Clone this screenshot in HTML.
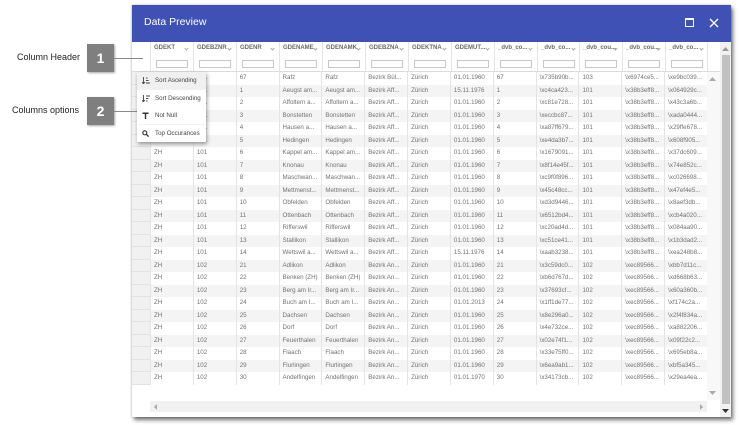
<!DOCTYPE html>
<html><head><meta charset="utf-8">
<style>
*{margin:0;padding:0;box-sizing:border-box}
html,body{width:740px;height:425px;background:#fff;overflow:hidden;font-family:"Liberation Sans",Arial,sans-serif;position:relative}
.abs{position:absolute}
.lbl{position:absolute;font-size:9px;color:#222;white-space:nowrap}
.box{position:absolute;width:27px;height:28px;background:#7f7f7f;color:#fff;font-weight:bold;font-size:14px;text-align:center;line-height:28px;box-shadow:1px 1px 2px rgba(0,0,0,.35)}
.ln{position:absolute;height:1px;background:#8a8a8a}
#dlg{position:absolute;left:132px;top:5px;width:599px;height:412px;background:#fff;box-shadow:2px 3px 4px rgba(0,0,0,.55),0 0 2px rgba(0,0,0,.25)}
#title{position:absolute;left:132px;top:5px;width:599px;height:37px;background:#3f51b5}
#title span{position:absolute;left:12px;top:11px;font-size:10.5px;color:#fff}
.hdr{position:absolute;top:42px;height:30px;border-left:1px solid #e4e4e4;border-bottom:1px solid #dcdcdc;background:#fff}
.hdr .n{position:absolute;left:3px;top:3px;font-size:6px;font-weight:bold;color:#6a6a6a;white-space:nowrap}
.hdr .ch{position:absolute;left:34px;top:5px;width:3px;height:3px;border-right:1px solid #aaa;border-bottom:1px solid #aaa;transform:rotate(45deg)}
.hdr .in{position:absolute;left:5px;top:18px;width:32px;height:8px;border:1px solid #c8c8c8;background:#fff}
#rows{position:absolute;left:132px;top:72px;width:575px}
.r{display:flex;height:12.5px;width:575px}
.r:nth-child(even){background:#f4f4f4}
.r div{flex:0 0 42.846px;width:42.846px;border-left:1px solid #e4e4e4;padding-left:3px;font-size:6.2px;color:#727272;line-height:12.5px;white-space:nowrap;overflow:hidden}
.r div.h{flex:0 0 18px;width:18px;background:#f1f1f1;border-left:none;border-bottom:1px solid #e2e2e2;padding:0}
#menu{position:absolute;left:137px;top:72px;width:69px;height:70px;background:#f3f3f3;box-shadow:1px 2px 4px rgba(0,0,0,.4)}
.mi{position:absolute;left:0;width:69px;height:17px;background:#fff;font-size:6.2px;color:#444;line-height:17px;padding-left:18px;white-space:nowrap}
.mi svg{position:absolute;left:5px;top:5px}
</style></head><body>

<div class="lbl" style="left:17px;top:52px">Column Header</div>
<div class="box" style="left:87px;top:44px">1</div>
<div class="lbl" style="left:12px;top:105px">Columns options</div>
<div class="box" style="left:87px;top:97px">2</div>

<div id="dlg"></div>
<div id="title"><span>Data Preview</span>
<div class="abs" style="left:553px;top:13px;width:9px;height:9px;border:1.3px solid #fff;border-top-width:2.2px"></div>
<svg class="abs" style="left:577px;top:13px" width="10" height="10" viewBox="0 0 10 10"><path d="M1 1L9 9M9 1L1 9" stroke="#fff" stroke-width="1.3"/></svg>
</div>

<div class="hdr" style="left:132px;width:18px;border-left:none"></div>
<div class="hdr" style="left:150px;width:43px"><span class="n">GDEKT</span><i class="ch"></i><i class="in"></i></div>
<div class="hdr" style="left:193px;width:43px"><span class="n">GDEBZNR</span><i class="ch"></i><i class="in"></i></div>
<div class="hdr" style="left:236px;width:43px"><span class="n">GDENR</span><i class="ch"></i><i class="in"></i></div>
<div class="hdr" style="left:279px;width:43px"><span class="n">GDENAME</span><i class="ch"></i><i class="in"></i></div>
<div class="hdr" style="left:322px;width:43px"><span class="n">GDENAMK</span><i class="ch"></i><i class="in"></i></div>
<div class="hdr" style="left:365px;width:43px"><span class="n">GDEBZNA</span><i class="ch"></i><i class="in"></i></div>
<div class="hdr" style="left:408px;width:43px"><span class="n">GDEKTNA</span><i class="ch"></i><i class="in"></i></div>
<div class="hdr" style="left:451px;width:43px"><span class="n">GDEMUT...</span><i class="ch"></i><i class="in"></i></div>
<div class="hdr" style="left:494px;width:43px"><span class="n">_dvb_co...</span><i class="ch"></i><i class="in"></i></div>
<div class="hdr" style="left:537px;width:42px"><span class="n">_dvb_co...</span><i class="ch"></i><i class="in"></i></div>
<div class="hdr" style="left:579px;width:43px"><span class="n">_dvb_cou...</span><i class="ch"></i><i class="in"></i></div>
<div class="hdr" style="left:622px;width:43px"><span class="n">_dvb_cou...</span><i class="ch"></i><i class="in"></i></div>
<div class="hdr" style="left:665px;width:42px"><span class="n">_dvb_co...</span><i class="ch"></i><i class="in"></i></div>
<div class="hdr" style="left:707px;width:13px"></div>

<div class="abs" style="left:707px;top:72px;width:13px;height:328px;background:#f8f8f8"></div>
<svg class="abs" style="left:709px;top:77px" width="7" height="4"><path d="M0 4L3.5 0L7 4Z" fill="#aaa"/></svg>
<svg class="abs" style="left:709px;top:391px" width="7" height="4"><path d="M0 0L3.5 4L7 0Z" fill="#aaa"/></svg>

<div class="abs" style="left:720px;top:42px;width:11px;height:375px;background:#f1f1f1"></div>
<div class="abs" style="left:722px;top:55px;width:8px;height:349px;background:#c1c1c1"></div>
<svg class="abs" style="left:722px;top:47px" width="7" height="4"><path d="M0 4L3.5 0L7 4Z" fill="#999"/></svg>
<svg class="abs" style="left:722px;top:409px" width="7" height="4"><path d="M0 0L3.5 4L7 0Z" fill="#333"/></svg>

<div class="abs" style="left:150px;top:401px;width:557px;height:11px;background:#f1f1f1"></div>
<svg class="abs" style="left:154px;top:404px" width="3" height="6"><path d="M3 0L0 3L3 6Z" fill="#aaa"/></svg>
<svg class="abs" style="left:700px;top:404px" width="3" height="6"><path d="M0 0L3 3L0 6Z" fill="#aaa"/></svg>

<div id="rows">
<div class="r"><div class="h"></div><div>ZH</div><div>101</div><div>67</div><div>Rafz</div><div>Rafz</div><div>Bezirk Bül...</div><div>Zürich</div><div>01.01.1960</div><div>67</div><div>\x735b90b...</div><div>103</div><div>\x6974ce5...</div><div>\xe9bc039...</div></div>
<div class="r"><div class="h"></div><div>ZH</div><div>101</div><div>1</div><div>Aeugst am...</div><div>Aeugst am...</div><div>Bezirk Aff...</div><div>Zürich</div><div>15.11.1976</div><div>1</div><div>\xc4ca423...</div><div>101</div><div>\x38b3eff8...</div><div>\x064929c...</div></div>
<div class="r"><div class="h"></div><div>ZH</div><div>101</div><div>2</div><div>Affoltern a...</div><div>Affoltern a...</div><div>Bezirk Aff...</div><div>Zürich</div><div>01.01.1960</div><div>2</div><div>\xc81e728...</div><div>101</div><div>\x38b3eff8...</div><div>\x43c3a6b...</div></div>
<div class="r"><div class="h"></div><div>ZH</div><div>101</div><div>3</div><div>Bonstetten</div><div>Bonstetten</div><div>Bezirk Aff...</div><div>Zürich</div><div>01.01.1960</div><div>3</div><div>\xeccbc87...</div><div>101</div><div>\x38b3eff8...</div><div>\xada0444...</div></div>
<div class="r"><div class="h"></div><div>ZH</div><div>101</div><div>4</div><div>Hausen a...</div><div>Hausen a...</div><div>Bezirk Aff...</div><div>Zürich</div><div>01.01.1960</div><div>4</div><div>\xa87ff679...</div><div>101</div><div>\x38b3eff8...</div><div>\x29ffe678...</div></div>
<div class="r"><div class="h"></div><div>ZH</div><div>101</div><div>5</div><div>Hedingen</div><div>Hedingen</div><div>Bezirk Aff...</div><div>Zürich</div><div>01.01.1960</div><div>5</div><div>\xe4da3b7...</div><div>101</div><div>\x38b3eff8...</div><div>\x608f905...</div></div>
<div class="r"><div class="h"></div><div>ZH</div><div>101</div><div>6</div><div>Kappel am...</div><div>Kappel am...</div><div>Bezirk Aff...</div><div>Zürich</div><div>01.01.1960</div><div>6</div><div>\x1679091...</div><div>101</div><div>\x38b3eff8...</div><div>\x37dc609...</div></div>
<div class="r"><div class="h"></div><div>ZH</div><div>101</div><div>7</div><div>Knonau</div><div>Knonau</div><div>Bezirk Aff...</div><div>Zürich</div><div>01.01.1960</div><div>7</div><div>\x8f14e45f...</div><div>101</div><div>\x38b3eff8...</div><div>\x74e852c...</div></div>
<div class="r"><div class="h"></div><div>ZH</div><div>101</div><div>8</div><div>Maschwan...</div><div>Maschwan...</div><div>Bezirk Aff...</div><div>Zürich</div><div>01.01.1960</div><div>8</div><div>\xc9f0f896...</div><div>101</div><div>\x38b3eff8...</div><div>\xc026698...</div></div>
<div class="r"><div class="h"></div><div>ZH</div><div>101</div><div>9</div><div>Mettmenst...</div><div>Mettmenst...</div><div>Bezirk Aff...</div><div>Zürich</div><div>01.01.1960</div><div>9</div><div>\x45c48cc...</div><div>101</div><div>\x38b3eff8...</div><div>\x47ef4e5...</div></div>
<div class="r"><div class="h"></div><div>ZH</div><div>101</div><div>10</div><div>Obfelden</div><div>Obfelden</div><div>Bezirk Aff...</div><div>Zürich</div><div>01.01.1960</div><div>10</div><div>\xd3d9446...</div><div>101</div><div>\x38b3eff8...</div><div>\x8aef3db...</div></div>
<div class="r"><div class="h"></div><div>ZH</div><div>101</div><div>11</div><div>Ottenbach</div><div>Ottenbach</div><div>Bezirk Aff...</div><div>Zürich</div><div>01.01.1960</div><div>11</div><div>\x6512bd4...</div><div>101</div><div>\x38b3eff8...</div><div>\xcb4a020...</div></div>
<div class="r"><div class="h"></div><div>ZH</div><div>101</div><div>12</div><div>Rifferswil</div><div>Rifferswil</div><div>Bezirk Aff...</div><div>Zürich</div><div>01.01.1960</div><div>12</div><div>\xc20ad4d...</div><div>101</div><div>\x38b3eff8...</div><div>\x084aa90...</div></div>
<div class="r"><div class="h"></div><div>ZH</div><div>101</div><div>13</div><div>Stallikon</div><div>Stallikon</div><div>Bezirk Aff...</div><div>Zürich</div><div>01.01.1960</div><div>13</div><div>\xc51ce41...</div><div>101</div><div>\x38b3eff8...</div><div>\x1b3dad2...</div></div>
<div class="r"><div class="h"></div><div>ZH</div><div>101</div><div>14</div><div>Wettswil a...</div><div>Wettswil a...</div><div>Bezirk Aff...</div><div>Zürich</div><div>15.11.1976</div><div>14</div><div>\xaab3238...</div><div>101</div><div>\x38b3eff8...</div><div>\xea248b8...</div></div>
<div class="r"><div class="h"></div><div>ZH</div><div>102</div><div>21</div><div>Adlikon</div><div>Adlikon</div><div>Bezirk An...</div><div>Zürich</div><div>01.01.1960</div><div>21</div><div>\x3c59dc0...</div><div>102</div><div>\xec89566...</div><div>\xbb7d11c...</div></div>
<div class="r"><div class="h"></div><div>ZH</div><div>102</div><div>22</div><div>Benken (ZH)</div><div>Benken (ZH)</div><div>Bezirk An...</div><div>Zürich</div><div>01.01.1960</div><div>22</div><div>\xb6d767d...</div><div>102</div><div>\xec89566...</div><div>\xd668b63...</div></div>
<div class="r"><div class="h"></div><div>ZH</div><div>102</div><div>23</div><div>Berg am Ir...</div><div>Berg am Ir...</div><div>Bezirk An...</div><div>Zürich</div><div>01.01.1960</div><div>23</div><div>\x37693cf...</div><div>102</div><div>\xec89566...</div><div>\x60a360b...</div></div>
<div class="r"><div class="h"></div><div>ZH</div><div>102</div><div>24</div><div>Buch am I...</div><div>Buch am I...</div><div>Bezirk An...</div><div>Zürich</div><div>01.01.2013</div><div>24</div><div>\x1ff1de77...</div><div>102</div><div>\xec89566...</div><div>\xf174c2a...</div></div>
<div class="r"><div class="h"></div><div>ZH</div><div>102</div><div>25</div><div>Dachsen</div><div>Dachsen</div><div>Bezirk An...</div><div>Zürich</div><div>01.01.1960</div><div>25</div><div>\x8e296a0...</div><div>102</div><div>\xec89566...</div><div>\x2f4f834a...</div></div>
<div class="r"><div class="h"></div><div>ZH</div><div>102</div><div>26</div><div>Dorf</div><div>Dorf</div><div>Bezirk An...</div><div>Zürich</div><div>01.01.1960</div><div>26</div><div>\x4e732ce...</div><div>102</div><div>\xec89566...</div><div>\xa882206...</div></div>
<div class="r"><div class="h"></div><div>ZH</div><div>102</div><div>27</div><div>Feuerthalen</div><div>Feuerthalen</div><div>Bezirk An...</div><div>Zürich</div><div>01.01.1960</div><div>27</div><div>\x02e74f1...</div><div>102</div><div>\xec89566...</div><div>\x09f22c2...</div></div>
<div class="r"><div class="h"></div><div>ZH</div><div>102</div><div>28</div><div>Flaach</div><div>Flaach</div><div>Bezirk An...</div><div>Zürich</div><div>01.01.1960</div><div>28</div><div>\x33e75ff0...</div><div>102</div><div>\xec89566...</div><div>\x695eb8a...</div></div>
<div class="r"><div class="h"></div><div>ZH</div><div>102</div><div>29</div><div>Flurlingen</div><div>Flurlingen</div><div>Bezirk An...</div><div>Zürich</div><div>01.01.1960</div><div>29</div><div>\x6ea9ab1...</div><div>102</div><div>\xec89566...</div><div>\xbf5a345...</div></div>
<div class="r"><div class="h"></div><div>ZH</div><div>102</div><div>30</div><div>Andelfingen</div><div>Andelfingen</div><div>Bezirk An...</div><div>Zürich</div><div>01.01.1970</div><div>30</div><div>\x34173cb...</div><div>102</div><div>\xec89566...</div><div>\x29ea4ea...</div></div>
</div>

<div class="ln" style="left:114px;top:58px;width:29px"></div>
<div class="ln" style="left:114px;top:111px;width:24px"></div>

<div id="menu">
<div class="mi" style="top:0;background:#f0f0f0"><svg width="8" height="7" viewBox="0 0 8 7"><path d="M1.5 0V6.5M0 5L1.5 6.8L3 5" stroke="#444" stroke-width="0.9" fill="none"/><path d="M4 1H5.5M4 3.5H6.5M4 6H8" stroke="#444" stroke-width="0.9"/></svg>Sort Ascending</div>
<div class="mi" style="top:17.7px"><svg width="8" height="7" viewBox="0 0 8 7"><path d="M1.5 0V6.5M0 5L1.5 6.8L3 5" stroke="#444" stroke-width="0.9" fill="none"/><path d="M4 1H8M4 3.5H6.5M4 6H5.5" stroke="#444" stroke-width="0.9"/></svg>Sort Descending</div>
<div class="mi" style="top:35.4px"><svg width="7" height="7" viewBox="0 0 7 7"><path d="M0.5 0.5H6.5V2H4.2V7H2.8V2H0.5Z" fill="#333"/></svg>Not Null</div>
<div class="mi" style="top:53px"><svg width="7" height="7" viewBox="0 0 7 7"><circle cx="2.8" cy="2.8" r="2" stroke="#333" stroke-width="1.1" fill="none"/><path d="M4.3 4.3L6.6 6.6" stroke="#333" stroke-width="1.3"/></svg>Top Occurances</div>
</div>

</body></html>
